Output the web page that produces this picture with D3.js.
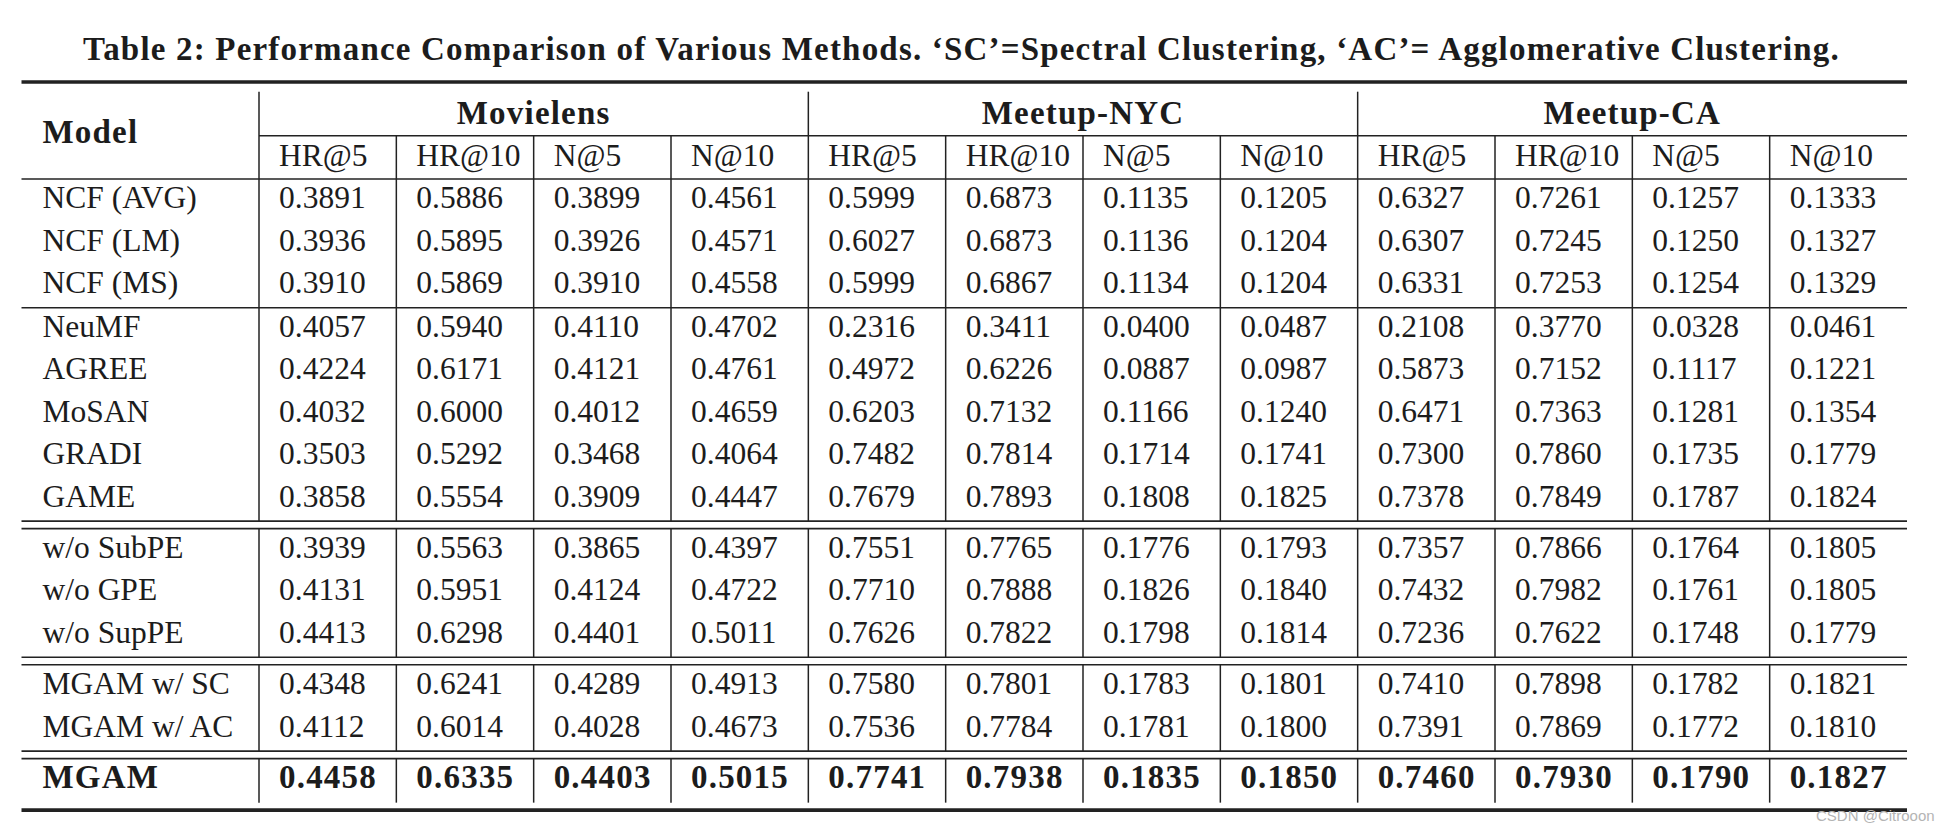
<!DOCTYPE html>
<html>
<head>
<meta charset="utf-8">
<script src="https://cdn.jsdelivr.net/npm/d3@7"></script>
<style>
  html, body { margin: 0; padding: 0; background: #fff; }
  svg { display: block; }
  .cell { font-family: 'Liberation Serif', 'Times New Roman', serif; font-size: 31.5px; fill: #1c1c1c; }
  .bold { font-weight: bold; font-size: 33px; letter-spacing: 1.2px; }
  .rule { stroke: #222; }
</style>
</head>
<body>
<div id="chart"></div>
<script>
const title = 'Table 2: Performance Comparison of Various Methods. \u2018SC\u2019=Spectral Clustering, \u2018AC\u2019= Agglomerative Clustering.';
const datasets = ['Movielens', 'Meetup-NYC', 'Meetup-CA'];
const metrics = ['HR@5', 'HR@10', 'N@5', 'N@10'];
const models = [
  'NCF (AVG)', 'NCF (LM)', 'NCF (MS)',
  'NeuMF', 'AGREE', 'MoSAN', 'GRADI', 'GAME',
  'w/o SubPE', 'w/o GPE', 'w/o SupPE',
  'MGAM w/ SC', 'MGAM w/ AC',
  'MGAM'
];
const groupSizes = [3, 5, 3, 2, 1];
const boldModels = ['MGAM'];

const movielens = [
  [0.3891, 0.5886, 0.3899, 0.4561],
  [0.3936, 0.5895, 0.3926, 0.4571],
  [0.3910, 0.5869, 0.3910, 0.4558],
  [0.4057, 0.5940, 0.4110, 0.4702],
  [0.4224, 0.6171, 0.4121, 0.4761],
  [0.4032, 0.6000, 0.4012, 0.4659],
  [0.3503, 0.5292, 0.3468, 0.4064],
  [0.3858, 0.5554, 0.3909, 0.4447],
  [0.3939, 0.5563, 0.3865, 0.4397],
  [0.4131, 0.5951, 0.4124, 0.4722],
  [0.4413, 0.6298, 0.4401, 0.5011],
  [0.4348, 0.6241, 0.4289, 0.4913],
  [0.4112, 0.6014, 0.4028, 0.4673],
  [0.4458, 0.6335, 0.4403, 0.5015]
];
const meetupNYC = [
  [0.5999, 0.6873, 0.1135, 0.1205],
  [0.6027, 0.6873, 0.1136, 0.1204],
  [0.5999, 0.6867, 0.1134, 0.1204],
  [0.2316, 0.3411, 0.0400, 0.0487],
  [0.4972, 0.6226, 0.0887, 0.0987],
  [0.6203, 0.7132, 0.1166, 0.1240],
  [0.7482, 0.7814, 0.1714, 0.1741],
  [0.7679, 0.7893, 0.1808, 0.1825],
  [0.7551, 0.7765, 0.1776, 0.1793],
  [0.7710, 0.7888, 0.1826, 0.1840],
  [0.7626, 0.7822, 0.1798, 0.1814],
  [0.7580, 0.7801, 0.1783, 0.1801],
  [0.7536, 0.7784, 0.1781, 0.1800],
  [0.7741, 0.7938, 0.1835, 0.1850]
];
const meetupCA = [
  [0.6327, 0.7261, 0.1257, 0.1333],
  [0.6307, 0.7245, 0.1250, 0.1327],
  [0.6331, 0.7253, 0.1254, 0.1329],
  [0.2108, 0.3770, 0.0328, 0.0461],
  [0.5873, 0.7152, 0.1117, 0.1221],
  [0.6471, 0.7363, 0.1281, 0.1354],
  [0.7300, 0.7860, 0.1735, 0.1779],
  [0.7378, 0.7849, 0.1787, 0.1824],
  [0.7357, 0.7866, 0.1764, 0.1805],
  [0.7432, 0.7982, 0.1761, 0.1805],
  [0.7236, 0.7622, 0.1748, 0.1779],
  [0.7410, 0.7898, 0.1782, 0.1821],
  [0.7391, 0.7869, 0.1772, 0.1810],
  [0.7460, 0.7930, 0.1790, 0.1827]
];
const values = [movielens, meetupNYC, meetupCA];

const width = 1950;
const height = 830;
const tableLeft = 21.5;
const tableRight = 1907;
const modelColRight = 259;
const cellPad = 20;
const rowH = 42.35;
const baseOff = 29.4;
const ruleAfter = 14.6;
const ruleGap = 7.5;
const fmt = d3.format('.4f');

const svg = d3.select('#chart').append('svg').attr('width', width).attr('height', height);
svg.append('rect').attr('width', width).attr('height', height).attr('fill', '#fff');

const nCols = datasets.length * metrics.length;
const colX = d3.scaleLinear().domain([0, nCols]).range([modelColRight, tableRight]);

// header geometry
const topRuleY = 82;
const vTopY = 91.7;
const datasetBaseY = 123.5;
const clineY = 135.7;
const metricBaseY = 165.5;
const headerBottomY = 179;
const modelBaseY = 143.3;

svg.append('text')
  .attr('class', 'cell bold')
  .attr('x', 83)
  .attr('y', 60)
  .attr('textLength', 1757)
  .attr('lengthAdjust', 'spacing')
  .text(title);

function hRule(y, x1, x2, w) {
  svg.append('line').attr('class', 'rule')
    .attr('x1', x1).attr('x2', x2).attr('y1', y).attr('y2', y)
    .attr('stroke-width', w);
}
function vRule(x, y1, y2) {
  svg.append('line').attr('class', 'rule')
    .attr('x1', x).attr('x2', x).attr('y1', y1).attr('y2', y2)
    .attr('stroke-width', 1.5);
}

hRule(topRuleY, tableLeft, tableRight, 3.6);
hRule(clineY, modelColRight, tableRight, 1.6);
hRule(headerBottomY, tableLeft, tableRight, 1.6);

svg.append('text').attr('class', 'cell bold')
  .attr('x', 42.5).attr('y', modelBaseY).text('Model');

datasets.forEach((name, di) => {
  const x0 = colX(di * metrics.length);
  const x1 = colX((di + 1) * metrics.length);
  vRule(x0, vTopY, headerBottomY);
  svg.append('text').attr('class', 'cell bold')
    .attr('x', (x0 + x1) / 2).attr('y', datasetBaseY)
    .attr('text-anchor', 'middle')
    .text(name);
  metrics.forEach((m, mi) => {
    const ci = di * metrics.length + mi;
    if (mi > 0) vRule(colX(ci), clineY, headerBottomY);
    svg.append('text').attr('class', 'cell')
      .attr('x', colX(ci) + cellPad).attr('y', metricBaseY)
      .text(m);
  });
});

// body
let groupTop = headerBottomY;
let rowIndex = 0;
groupSizes.forEach((size, gi) => {
  const last = gi === groupSizes.length - 1;
  const bottom = groupTop + baseOff + (size - 1) * rowH + ruleAfter;
  for (let c = 0; c < nCols; c++) vRule(colX(c), groupTop, bottom);

  for (let r = 0; r < size; r++) {
    const model = models[rowIndex];
    const y = groupTop + baseOff + r * rowH;
    const isBold = boldModels.includes(model);
    const cls = isBold ? 'cell bold' : 'cell';
    svg.append('text').attr('class', cls)
      .attr('x', 42.5).attr('y', y).text(model);
    values.forEach((table, di) => {
      table[rowIndex].forEach((v, mi) => {
        const ci = di * metrics.length + mi;
        svg.append('text').attr('class', cls)
          .attr('x', colX(ci) + cellPad).attr('y', y)
          .text(fmt(v));
      });
    });
    rowIndex++;
  }

  if (last) {
    hRule(bottom + ruleGap, tableLeft, tableRight, 3.6);
  } else if (gi === 0) {
    hRule(bottom, tableLeft, tableRight, 1.6);
    groupTop = bottom;
  } else {
    hRule(bottom, tableLeft, tableRight, 1.6);
    hRule(bottom + ruleGap, tableLeft, tableRight, 1.6);
    groupTop = bottom + ruleGap;
  }
});

svg.append('text')
  .attr('x', 1816).attr('y', 821)
  .attr('font-family', 'Liberation Sans, Arial, sans-serif')
  .attr('font-size', 15)
  .attr('fill', '#b4b4b4')
  .text('CSDN @Citrooon');
</script>
</body>
</html>
